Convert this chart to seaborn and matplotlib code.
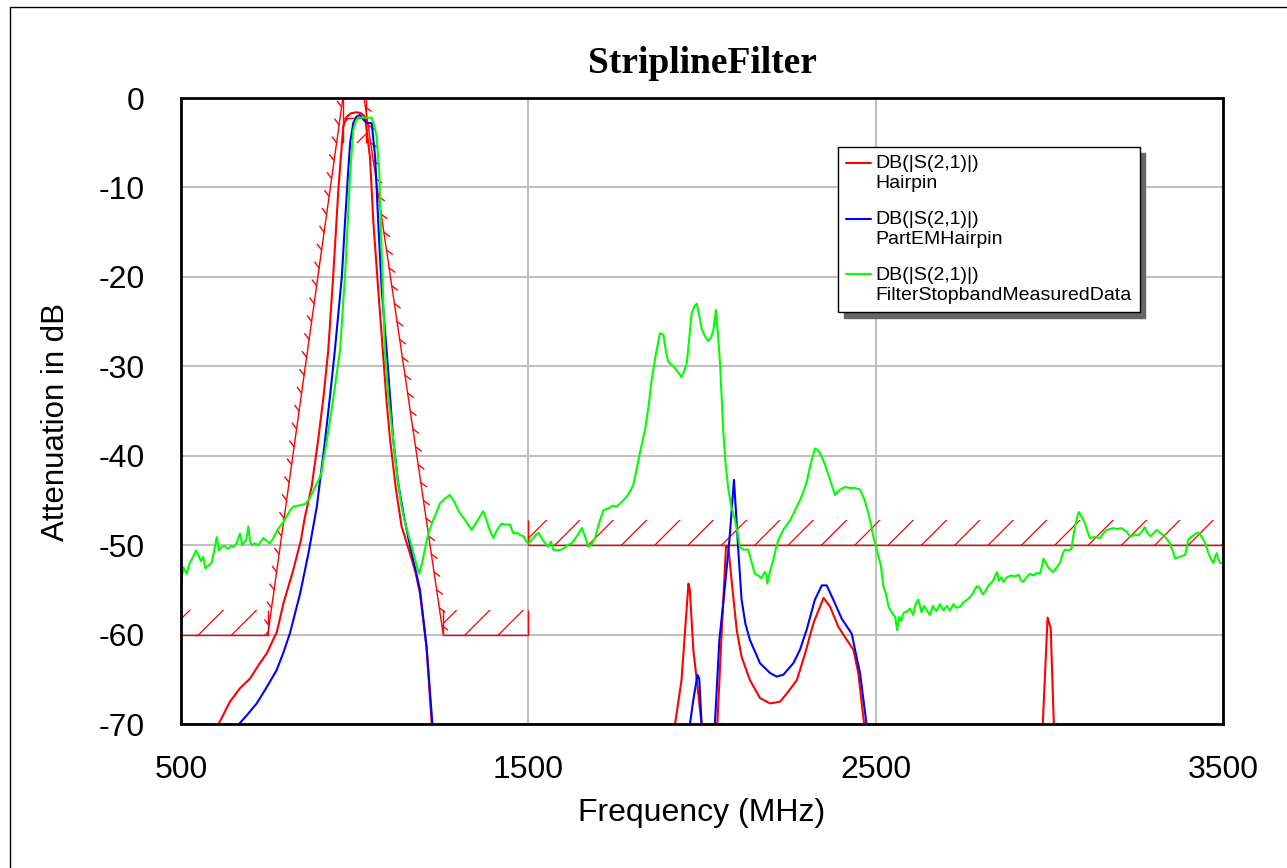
import numpy as np
import pandas as pd
import seaborn as sns
import matplotlib.pyplot as plt
from matplotlib import patheffects
from matplotlib.lines import Line2D
from matplotlib.legend_handler import HandlerLine2D

# --- simulated / measured S21 (MHz, dB); points below -70 are off scale ---
hairpin = [
    (560, -75), (607, -70.1), (641, -67.5), (670, -66), (699, -64.9), (727, -63.2),
    (747, -62.1), (776, -59.7), (795, -56.5), (823, -52.8), (845, -49.5), (857, -46.8),
    (876, -43.5), (895, -38.2), (910, -33.5), (924, -28.2), (938, -20), (953, -10.3),
    (967, -3.2), (977, -2.1), (990, -1.7), (1006, -1.6), (1018, -1.7), (1030, -2.1),
    (1044, -6.6), (1054, -14), (1068, -21.5), (1081, -28.2), (1092, -34), (1102, -38.2),
    (1118, -43.5), (1135, -47.9), (1159, -50.9), (1175, -53), (1188, -55.4),
    (1207, -61.4), (1222, -70.1), (1235, -80),
    (1900, -80), (1922, -70.1), (1941, -65.1), (1961, -54.3), (1965, -55), (1975, -61.7),
    (1985, -65.1), (1999, -70.1), (2010, -80), (2035, -80), (2044, -70.1), (2057, -59.5),
    (2069, -50.2), (2076, -50.2), (2085, -53.9), (2100, -59.5), (2114, -62.5),
    (2138, -65.1), (2167, -67.1), (2196, -67.7), (2225, -67.5), (2244, -66.6),
    (2273, -65.1), (2297, -62.1), (2321, -58.7), (2350, -55.9), (2369, -56.9),
    (2392, -59.1), (2417, -60.6), (2436, -61.7), (2450, -64.3), (2467, -70.1),
    (2480, -80), (2970, -80), (2981, -70.1), (2995, -58.1), (3004, -59.3),
    (3013, -70.1), (3025, -80), (3500, -80),
]

part_em = [
    (640, -75), (665, -70.1), (690, -69), (718, -67.7), (745, -66), (775, -64),
    (795, -62), (814, -59.8), (843, -55.4), (867, -50.9), (891, -45.7), (915, -38.2),
    (930, -33), (943, -28.2), (963, -20), (972, -14), (980, -9), (987, -5), (996, -2.8),
    (1005, -2.1), (1015, -1.9), (1025, -2.4), (1035, -2.8), (1049, -2.8), (1059, -6.6),
    (1068, -14), (1078, -21.5), (1092, -28.2), (1111, -38.2), (1125, -43), (1140, -46.4),
    (1155, -49.3), (1169, -51.7), (1188, -55), (1207, -61.4), (1224, -70.1), (1235, -80),
    (1955, -80), (1965, -70.1), (1975, -67.3), (1987, -64.5), (1992, -64.9),
    (1999, -70.1), (2005, -80), (2030, -80), (2037, -70.1), (2050, -60.6),
    (2063, -55.8), (2079, -49.4), (2092, -42.7), (2098, -46.4), (2105, -50.9),
    (2114, -56.1), (2125, -58.8), (2138, -60.6), (2167, -63.2), (2196, -64.3),
    (2215, -64.7), (2234, -64.5), (2263, -63.2), (2282, -61.7), (2301, -59.5),
    (2325, -56.1), (2345, -54.5), (2359, -54.5), (2378, -56.1), (2402, -58.2),
    (2431, -59.9), (2445, -62.5), (2455, -64.3), (2474, -70.1), (2485, -80), (3500, -80),
]

measured = [
    (500, -54.1), (507, -52.5), (516, -53.2), (525, -52), (535, -51.3), (543, -50.6),
    (550, -51.1), (557, -51.8), (564, -51.3), (570, -52.6), (574, -52.4), (582, -52.2),
    (588, -52), (596, -50.5), (603, -49.1), (609, -50.6), (617, -50.2), (625, -50.1),
    (635, -50.4), (644, -50.1), (651, -50.2), (660, -49.8), (670, -48.7), (676, -50),
    (679, -49.8), (688, -49.4), (694, -47.9), (699, -49.6), (704, -50), (712, -49.8),
    (723, -50), (730, -49.6), (737, -49.2), (746, -49.5), (756, -49.8), (766, -49.2),
    (776, -48.4), (785, -47.9), (795, -47.4), (804, -46.8), (813, -46.2), (823, -45.7),
    (835, -45.6), (847, -45.5), (857, -45.4), (867, -45), (878, -44.2), (891, -43.1),
    (899, -42.5), (905, -41.8), (910, -40.5), (915, -39.4), (925, -37), (935, -34.5),
    (946, -31.5), (958, -28.2), (965, -24), (972, -20), (980, -14), (987, -8.4),
    (996, -3.6), (1004, -2.5), (1011, -2.2), (1030, -2.2), (1049, -2.2), (1056, -3),
    (1063, -4.3), (1071, -8.4), (1078, -17.7), (1087, -28.2), (1097, -33.5),
    (1111, -38.2), (1123, -42.5), (1135, -45.7), (1147, -47.8), (1159, -49.4),
    (1172, -51.3), (1180, -52.5), (1186, -53.2), (1194, -52), (1202, -50.5),
    (1212, -48.7), (1226, -47.2), (1236, -46.3), (1246, -45.3), (1260, -44.8),
    (1274, -44.4), (1285, -45), (1298, -46.1), (1308, -46.7), (1318, -47.2),
    (1328, -47.8), (1337, -48.3), (1348, -47.6), (1361, -46.8), (1370, -46.2),
    (1378, -47), (1385, -47.9), (1392, -48.6), (1399, -49.2), (1410, -48.3),
    (1423, -47.6), (1435, -47.7), (1447, -47.7), (1457, -48.7), (1467, -48.6),
    (1478, -48.9), (1486, -49), (1493, -49.5), (1500, -49.8), (1510, -49.4),
    (1519, -49), (1529, -48.6), (1543, -49.5), (1557, -50.2), (1565, -49.6),
    (1572, -50.5), (1586, -50.6), (1601, -50.4), (1613, -50), (1625, -49.8),
    (1640, -49), (1654, -48.1), (1663, -49), (1673, -50.2), (1682, -49.9),
    (1692, -49.2), (1704, -47.5), (1716, -46.1), (1730, -45.9), (1742, -45.6),
    (1754, -45.7), (1768, -45.2), (1783, -44.6), (1793, -44), (1802, -43.3),
    (1812, -41.5), (1821, -39.7), (1836, -37.1), (1846, -34.5), (1855, -31.5),
    (1867, -28.7), (1879, -26.3), (1889, -26.5), (1896, -28.3), (1903, -29.5),
    (1912, -29.8), (1922, -30.2), (1932, -30.7), (1941, -31.2), (1949, -30.5),
    (1956, -29.7), (1963, -27), (1970, -24.1), (1978, -23.3), (1985, -23),
    (1992, -24.3), (1999, -25.8), (2008, -26.6), (2018, -27.2), (2026, -26.8),
    (2033, -25.9), (2040, -23.7), (2046, -26.5), (2052, -29.7), (2061, -37.1),
    (2068, -41), (2076, -43.8), (2085, -45.8), (2095, -47.2), (2102, -48.6),
    (2109, -50.2), (2120, -50.5), (2133, -50.5), (2142, -51.8), (2152, -53.2),
    (2162, -53.4), (2172, -53.7), (2180, -53), (2186, -53.3), (2188, -54.3),
    (2196, -52.9), (2205, -51.7), (2212, -50.5), (2220, -49.4), (2234, -48.3),
    (2254, -47.2), (2268, -46.1), (2283, -44.9), (2297, -43.5), (2304, -42.5),
    (2311, -41.2), (2318, -40.2), (2325, -39.2), (2333, -39.4), (2340, -39.7),
    (2354, -41), (2369, -42.7), (2383, -44.4), (2397, -43.8), (2412, -43.5),
    (2426, -43.6), (2440, -43.6), (2455, -43.8), (2469, -45), (2478, -46.3),
    (2486, -47.6), (2493, -49), (2500, -50), (2508, -51.3), (2515, -52.3),
    (2522, -54.6), (2530, -55.5), (2537, -56.9), (2551, -57.8), (2556, -58),
    (2562, -59.5), (2568, -58), (2573, -58.5), (2580, -57.6), (2590, -57.4),
    (2599, -57.1), (2608, -57.8), (2616, -56.5), (2623, -56.1), (2632, -57.5),
    (2640, -56.8), (2647, -57.3), (2656, -57.8), (2665, -56.8), (2675, -57.4),
    (2685, -56.6), (2695, -57.3), (2705, -56.8), (2714, -57.3), (2724, -56.6),
    (2733, -57.0), (2743, -56.9), (2752, -56.4), (2760, -56.2), (2772, -55.8),
    (2781, -55.3), (2791, -54.6), (2800, -54.8), (2808, -55.5), (2815, -55.2),
    (2825, -54.5), (2833, -54.2), (2839, -53.9), (2849, -53), (2855, -54),
    (2862, -53.6), (2868, -54.1), (2878, -53.6), (2890, -53.4), (2901, -53.5),
    (2912, -53.3), (2918, -53.9), (2925, -54.1), (2935, -53.6), (2944, -53.2),
    (2955, -53.4), (2964, -53.1), (2973, -53.2), (2978, -52.5), (2983, -51.5),
    (2990, -52), (2997, -52.5), (3004, -52.8), (3011, -53), (3021, -52.5),
    (3031, -52), (3038, -51), (3045, -50.5), (3055, -50.6), (3064, -50.4),
    (3069, -49), (3074, -47.9), (3080, -46.9), (3085, -46.3), (3094, -46.9),
    (3103, -47.6), (3110, -48.5), (3117, -49.2), (3132, -49.1), (3146, -49.2),
    (3155, -48.7), (3165, -48.3), (3175, -48.2), (3184, -48.1), (3196, -48.2),
    (3208, -48.1), (3215, -48.3), (3223, -48.5), (3230, -48.9), (3237, -49),
    (3246, -48.8), (3256, -48.9), (3266, -48.5), (3275, -48), (3282, -48.6),
    (3290, -49), (3300, -48.7), (3309, -48.3), (3318, -48.6), (3328, -48.9),
    (3338, -49.3), (3347, -49.8), (3355, -50.6), (3362, -51.5), (3370, -51.4),
    (3376, -51.3), (3384, -51.2), (3391, -51.1), (3396, -50.2), (3400, -49.4),
    (3408, -49.1), (3415, -48.9), (3422, -48.7), (3429, -48.6), (3440, -49.1),
    (3449, -49.8), (3454, -50.4), (3458, -50.9), (3465, -51.5), (3472, -52),
    (3478, -51.2), (3482, -50.9), (3487, -51.6), (3492, -52), (3500, -52),
]

# --- filter goals (mask) ---
stop_lo_f = [500, 750]
stop_lo_db = -60
skirt_lo_f = [750, 966]
skirt_lo_db = [-60, 0]
pass_f = [966, 1033]
pass_db = -2.2
pass_floor = -5
skirt_hi_f = [1027, 1255]
skirt_hi_db = [0, -60]
stop_hi1_f = [1255, 1500]
stop_hi1_db = -60
stop_hi2_f = [1500, 3500]
stop_hi2_db = -50
hatch_depth = 2.8

labels = ["DB(|S(2,1)|)\nHairpin", "DB(|S(2,1)|)\nPartEMHairpin",
          "DB(|S(2,1)|)\nFilterStopbandMeasuredData"]
colors = ["#ff0000", "#0000ff", "#00ff00"]

sns.set_style("white")
plt.rcParams['font.family'] = ['Liberation Sans', 'DejaVu Sans']
plt.rcParams['axes.unicode_minus'] = False
plt.rcParams['text.color'] = 'black'
plt.rcParams['axes.labelcolor'] = 'black'
plt.rcParams['xtick.color'] = 'black'
plt.rcParams['ytick.color'] = 'black'
plt.rcParams['hatch.color'] = 'red'
plt.rcParams['hatch.linewidth'] = 0.9

fig, ax = plt.subplots(figsize=(12.87, 8.68), dpi=100)
fig.subplots_adjust(left=181 / 1287, right=1223 / 1287, top=1 - 98 / 868, bottom=1 - 724 / 868)

# goals first, under the traces
mask_kw = dict(color="red", lw=1.0)
ax.plot(stop_lo_f, [stop_lo_db] * 2, **mask_kw)
ax.plot(stop_hi1_f, [stop_hi1_db] * 2, **mask_kw)
ax.plot(stop_hi2_f, [stop_hi2_db] * 2, **mask_kw)
ax.plot(pass_f, [pass_db] * 2, **mask_kw)
for f0, f1, lvl in [(stop_lo_f[0], stop_lo_f[1], stop_lo_db),
                    (stop_hi1_f[0], stop_hi1_f[1], stop_hi1_db),
                    (stop_hi2_f[0], stop_hi2_f[1], stop_hi2_db)]:
    ax.fill_between([f0, f1], lvl, lvl + hatch_depth, facecolor="none",
                    edgecolor="red", hatch="/", linewidth=0)
ax.fill_between(pass_f, pass_floor, pass_db, facecolor="none",
                edgecolor="red", hatch="/", linewidth=0)
ax.vlines([stop_lo_f[1], stop_hi1_f[0], stop_hi1_f[1]], stop_lo_db,
          stop_lo_db + hatch_depth, **mask_kw)
ax.vlines([stop_hi2_f[0]], stop_hi2_db, stop_hi2_db + hatch_depth, **mask_kw)
ax.vlines(pass_f, pass_floor, 0, **mask_kw)
ticked = [patheffects.withTickedStroke(angle=45, spacing=13, length=0.4)]
ax.plot(skirt_lo_f, skirt_lo_db, path_effects=ticked, **mask_kw)
ax.plot(skirt_hi_f, skirt_hi_db, path_effects=ticked, **mask_kw)

for data, lab, col in zip([hairpin, part_em, measured], labels, colors):
    df = pd.DataFrame(data, columns=["freq", "db"])
    sns.lineplot(data=df, x="freq", y="db", color=col, lw=1.5, sort=False,
                 estimator=None, label=lab, ax=ax)

ax.set_xlim(500, 3500)
ax.set_ylim(-70, 0)
ax.set_xticks([500, 1500, 2500, 3500])
ax.set_yticks(np.arange(-70, 1, 10))
ax.grid(True, color="#c0c0c0", lw=1.5)
ax.set_axisbelow(True)
for s in ax.spines.values():
    s.set_color("black")
    s.set_linewidth(2)
ax.tick_params(axis="x", length=0, pad=22, labelsize=23)
ax.tick_params(axis="y", length=0, pad=26, labelsize=23)

ax.set_xlabel("Frequency (MHz)", fontsize=23)
ax.set_ylabel("Attenuation in dB", fontsize=22.5)
ax.xaxis.set_label_coords(0.5, -0.118)
ax.yaxis.set_label_coords(-0.1056, 0.482)
ax.set_title("StriplineFilter", fontsize=27, fontweight="bold",
             family="Liberation Serif", pad=18)


class TopLineHandler(HandlerLine2D):
    # put the legend line next to the first text row
    def create_artists(self, legend, orig_handle, xdescent, ydescent, width,
                       height, fontsize, trans):
        arts = super().create_artists(legend, orig_handle, xdescent, ydescent,
                                      width, height, fontsize, trans)
        for a in arts:
            a.set_ydata(np.asarray(a.get_ydata()) + 0.55 * fontsize)
        return arts


handles = ax.get_legend_handles_labels()[0]
leg = ax.legend(handles, labels, loc="upper left", bbox_to_anchor=(0.6305, 0.9217),
                borderaxespad=0, fontsize=14, frameon=True, fancybox=False,
                edgecolor="black", framealpha=1, handlelength=1.3,
                handletextpad=0.2, borderpad=0.42, labelspacing=0.95,
                shadow={"ox": 4, "oy": -4, "color": "0.4", "alpha": 1},
                handler_map={Line2D: TopLineHandler()})
leg.get_frame().set_linewidth(1)
for t in leg.get_texts():
    t.set_linespacing(1.25)

fig.add_artist(plt.Rectangle((10 / 1287, -0.05), 1.1, 1.05 - 7 / 868,
                             transform=fig.transFigure, fill=False,
                             edgecolor="black", lw=1))

fig.savefig("out.png", dpi=100)
